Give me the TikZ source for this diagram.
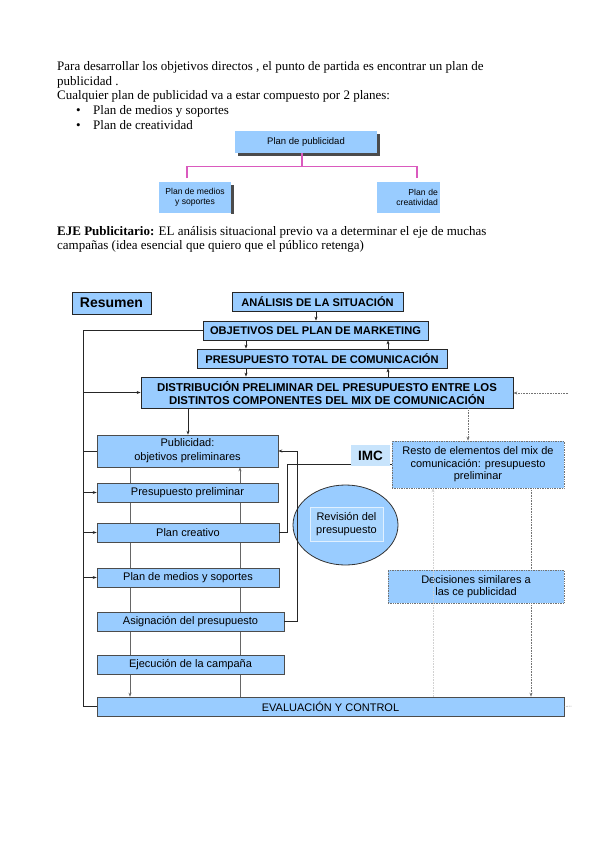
\documentclass[tikz,border=0pt]{standalone}
\usepackage{fontspec}
\setmainfont{Liberation Serif}
\newfontfamily\diagfont{Liberation Sans}
\usetikzlibrary{arrows.meta,shapes.geometric,backgrounds}
\definecolor{boxblue}{RGB}{153,204,255}
\definecolor{imcblue}{RGB}{200,228,252}
\definecolor{innerblue}{RGB}{170,214,255}
\definecolor{pinkline}{RGB}{218,90,190}
\definecolor{shadowgray}{RGB}{75,75,75}
\begin{document}
\begin{tikzpicture}[x=1pt,y=-1pt,
  bodytext/.style={anchor=base west,inner sep=0pt,font=\fontsize{13}{15}\selectfont},
  topbox/.style={draw=black!85,line width=0.8pt,fill=boxblue,inner sep=0pt,align=center,
     font=\diagfont\bfseries\fontsize{11.1}{13}\selectfont},
  colbox/.style={draw=black!70,line width=0.6pt,fill=boxblue,inner sep=0pt,align=center,
     font=\diagfont\fontsize{11}{14}\selectfont},
  dotbox/.style={draw=black!55,densely dotted,line width=0.7pt,fill=boxblue,inner sep=0pt,align=center,
     font=\diagfont\fontsize{11}{12.5}\selectfont},
  orgbox/.style={fill=boxblue,inner sep=0pt,align=center,font=\diagfont\fontsize{8.6}{10.5}\selectfont},
  arr/.style={-{Stealth[length=4pt,width=3pt]}},
  mainline/.style={draw=black!85,line width=0.7pt},
  grayline/.style={draw=black!60,line width=0.6pt},
  dotline/.style={draw=black!55,densely dotted,line width=0.6pt},
  faintline/.style={draw=black!18,densely dotted,line width=0.6pt}]
\useasboundingbox (0,0) rectangle (599,848);

% ---------- text ----------
\node[bodytext] (t1) at (57,71) {Para desarrollar los objetivos directos , el punto de partida es encontrar un plan de};
\node[bodytext] (t2) at (57,85.5) {publicidad .};
\node[bodytext] (t3) at (57,100) {Cualquier plan de publicidad va a estar compuesto por 2 planes:};
\node[bodytext] (b1) at (76,114.5) {•};
\node[bodytext] (t4) at (93,114.5) {Plan de medios y soportes};
\node[bodytext] (b2) at (76,129) {•};
\node[bodytext] (t5) at (93,129) {Plan de creatividad};
\node[bodytext] (t6) at (57,235) {\textbf{EJE Publicitario:} EL análisis situacional previo va a determinar el eje de muchas};
\node[bodytext] (t7) at (57,249.5) {campañas (idea esencial que quiero que el público retenga)};

% ---------- small org chart ----------
\fill[shadowgray] (238,134) rectangle (380,156);
\node[orgbox,minimum width=142pt,minimum height=22pt,font=\diagfont\fontsize{9.5}{11}\selectfont] (PP) at (306,142) {Plan de publicidad};
\fill[shadowgray] (231,185) rectangle (234,214);
\node[orgbox,minimum width=72pt,minimum height=31pt] (PM) at (195,197.5) {Plan de medios\\y soportes};
\node[orgbox,minimum width=63pt,minimum height=31pt,align=right,text width=59pt] (PC) at (408.5,197.5) {Plan de\\creatividad};
\coordinate (jtop) at (302,153);
\coordinate (jmid) at (302,166.5);
\coordinate (jl) at (187,178);
\coordinate (jr) at (417,178);
\draw[pinkline,line width=1.1pt] (jtop) -- (jmid);
\draw[pinkline,line width=1.1pt] (jl) |- (jmid) -| (jr);

% ---------- main diagram ----------
\node[topbox,minimum width=79pt,minimum height=22pt,font=\diagfont\bfseries\fontsize{14}{16}\selectfont] (RSM) at (111.5,303) {Resumen};
\node[topbox,minimum width=171pt,minimum height=19pt] (ANA) at (317.5,301.5) {ANÁLISIS DE LA SITUACIÓN};
\node[topbox,minimum width=225pt,minimum height=19pt] (OBJ) at (315.5,330.5) {OBJETIVOS DEL PLAN DE MARKETING};
\node[topbox,minimum width=250pt,minimum height=19pt] (PRE) at (322,358.5) {PRESUPUESTO TOTAL DE COMUNICACIÓN};
\node[topbox,minimum width=372pt,minimum height=31pt,font=\diagfont\bfseries\fontsize{11.4}{13}\selectfont] (DIS) at (327,392.5) {DISTRIBUCIÓN PRELIMINAR DEL PRESUPUESTO ENTRE LOS\\DISTINTOS COMPONENTES DEL MIX DE COMUNICACIÓN};

\node[colbox,minimum width=181pt,minimum height=32pt] (PUB) at (187.5,451) {Publicidad:\\objetivos preliminares};
\node[colbox,minimum width=181pt,minimum height=19pt] (PRP) at (187.5,492.5) {Presupuesto preliminar};
\node[colbox,minimum width=182pt,minimum height=19pt] (PLC) at (188,532.5) {Plan creativo};
\node[colbox,minimum width=182pt,minimum height=19pt] (PLM) at (188,577.5) {Plan de medios y soportes};
\node[colbox,minimum width=187pt,minimum height=19pt] (ASG) at (190.5,621.5) {Asignación del presupuesto};
\node[colbox,minimum width=187pt,minimum height=19pt] (EJE) at (190.5,664.5) {Ejecución de la campaña};
\node[colbox,minimum width=467pt,minimum height=19pt] (EVA) at (330.5,706.5) {EVALUACIÓN Y CONTROL};

\node[dotbox,minimum width=172pt,minimum height=47pt] (RES) at (478,464.5) {Resto de elementos del mix de\\comunicación: presupuesto\\preliminar};
\node[dotbox,minimum width=176pt,minimum height=33pt,font=\diagfont\fontsize{11}{12}\selectfont] (DEC) at (476,586.5) {Decisiones similares a\\las ce publicidad};

\node[ellipse,draw=black!80,line width=0.8pt,fill=boxblue,minimum width=105pt,minimum height=80pt,inner sep=0pt] (ELL) at (345.5,525) {};
\node[draw=white!70!boxblue,line width=0.8pt,fill=innerblue,minimum width=73pt,minimum height=34pt,inner sep=0pt,align=center,
  font=\diagfont\fontsize{11}{13}\selectfont] (REV) at (346.5,524) {Revisión del\\presupuesto};

% coordinates for vertical guide lines
\coordinate (cA) at (83,0);
\coordinate (cB) at (130,0);
\coordinate (cC) at (240,0);
\coordinate (cD) at (188,0);
\coordinate (cE) at (246,0);
\coordinate (cF) at (388,0);
\coordinate (cG) at (316,0);
\coordinate (cH) at (287,0);
\coordinate (cI) at (297,0);
\coordinate (cJ) at (468,0);
\coordinate (cK) at (433,0);
\coordinate (cL) at (531,0);
\coordinate (stub1) at (568,393);
\coordinate (stub2) at (572,706);

\begin{scope}[on background layer]
  \draw[grayline,arr] (PUB.south -| cB) -- (EVA.north -| cB);
  \draw[grayline,arr] (EVA.north -| cC) -- (PUB.south -| cC);
\end{scope}

% top chain
\draw[mainline,arr] (ANA.south -| cG) -- (OBJ.north -| cG);
\draw[mainline,arr] (OBJ.south -| cE) -- (PRE.north -| cE);
\draw[mainline,arr] (PRE.north -| cF) -- (OBJ.south -| cF);
\draw[mainline,arr] (PRE.south -| cE) -- (DIS.north -| cE);
\draw[mainline,arr] (DIS.north -| cF) -- (PRE.south -| cF);
\draw[mainline,arr] (DIS.south -| cD) -- (PUB.north -| cD);

% left feedback line
\draw[mainline] (OBJ.west) -| (cA |- EVA.west) -- (EVA.west);
\draw[mainline,arr] (cA |- DIS.west) -- (DIS.west);
\draw[mainline] (cA |- PUB.west) -- (PUB.west);
\draw[mainline,arr] (cA |- PRP.west) -- (PRP.west);
\draw[mainline,arr] (cA |- PLC.west) -- (PLC.west);
\draw[mainline,arr] (cA |- PLM.west) -- (PLM.west);

% right-hand connectors of the column
\draw[mainline] (PLC.east) -- (PLC.east -| cH) |- (RES.west);
\draw[mainline,arr] (ASG.east) -- (ASG.east -| cI) |- (PUB.east);

% dotted connectors
\draw[dotline,arr] (stub1) -- (DIS.east |- stub1);
\draw[dotline,arr] (DIS.south -| cJ) -- (RES.north -| cJ);
\draw[faintline,arr] (EVA.north -| cK) -- (RES.south -| cK);
\draw[dotline] (RES.south -| cL) -- (DEC.north -| cL);
\draw[dotline,arr] (DEC.south -| cL) -- (EVA.north -| cL);
\draw[dotline] (EVA.east) -- (stub2);

% IMC label on top of the line
\node[fill=imcblue,minimum width=39pt,minimum height=21pt,inner sep=0pt,
  font=\diagfont\bfseries\fontsize{13.5}{15}\selectfont] (IMC) at (370.5,455.5) {IMC};
\end{tikzpicture}
\end{document}
